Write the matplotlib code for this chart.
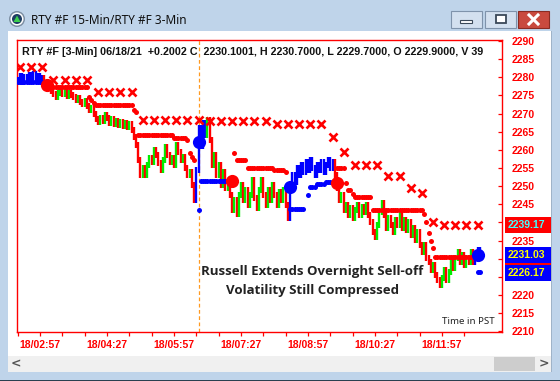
import matplotlib
matplotlib.use('Agg')
import matplotlib.pyplot as plt
from matplotlib.patches import Rectangle, Ellipse, Polygon
from matplotlib.lines import Line2D

W, H = 560, 381

# 3-min bar closes, first bar at 18/02:27 (minutes after midnight)
bar_start = 147
closes = [
    2279.3, 2280.4, 2278.7, 2280.1, 2279.5, 2280.6, 2279.8, 2280.9, 2279.5, 2280.4, 2279.3, 2279.8,
    2278.2, 2277.1, 2277.6, 2276.2, 2275.4, 2274.6, 2275.7, 2276.5, 2275.4, 2275.9, 2274.8, 2275.7,
    2275.1, 2274.6, 2273.7, 2274.3, 2273.2, 2272.6, 2273.5, 2272.1, 2271.0, 2271.5, 2269.9, 2268.5,
    2267.7, 2268.8, 2268.0, 2269.6, 2268.8, 2267.4, 2268.5, 2267.1, 2268.0, 2266.9, 2267.7, 2266.6,
    2267.4, 2266.3, 2267.1, 2265.5, 2263.6, 2261.3, 2257.2, 2253.1, 2255.0, 2253.1, 2255.8, 2257.8,
    2256.7, 2260.0, 2258.6, 2256.4, 2254.5, 2257.2, 2260.8, 2258.6, 2256.7, 2257.8, 2255.8, 2261.3,
    2259.4, 2257.2, 2258.1, 2255.0, 2253.1, 2253.9, 2250.3, 2246.2, 2254.5, 2266.0, 2261.0, 2267.5,
    2264.1, 2268.2, 2262.7, 2255.8, 2258.6, 2253.1, 2255.8, 2250.3, 2253.9, 2249.5, 2250.9, 2247.6,
    2243.4, 2246.2, 2242.3, 2247.6, 2250.3, 2246.2, 2249.0, 2244.8, 2247.6, 2251.7, 2246.8, 2244.0,
    2249.0, 2251.7, 2247.6, 2244.8, 2249.0, 2246.2, 2250.3, 2247.6, 2244.8, 2248.4, 2246.2, 2249.0,
    2244.8, 2241.2, 2249.0, 2253.1, 2251.2, 2255.0, 2253.1, 2255.8, 2253.9, 2256.7, 2254.5, 2257.2,
    2255.0, 2253.1, 2255.8, 2254.5, 2256.7, 2253.9, 2255.8, 2257.2, 2255.0, 2256.7, 2253.1, 2249.5,
    2246.2, 2247.6, 2243.4, 2244.8, 2242.1, 2244.0, 2241.2, 2243.4, 2244.8, 2242.1, 2244.3, 2242.9,
    2244.8, 2242.1, 2240.1, 2237.4, 2236.0, 2239.3, 2242.9, 2245.4, 2242.1, 2238.5, 2241.2, 2239.3,
    2237.4, 2240.7, 2239.3, 2242.1, 2238.5, 2240.7, 2237.9, 2240.1, 2236.6, 2238.5, 2235.2, 2237.4,
    2233.8, 2231.9, 2233.8, 2230.2, 2229.1, 2226.9, 2228.3, 2225.5, 2224.2, 2222.8, 2224.7, 2226.9,
    2224.2, 2226.4, 2229.1, 2227.5, 2230.2, 2231.9, 2229.1, 2231.0, 2228.3, 2230.2, 2229.1, 2231.9,
    2229.1, 2231.0, 2232.4, 2231.0,
]
# bar index ranges painted blue
blue_bars = [(0, 11), (80, 84), (122, 141), (205, 207)]
wick = 0.8  # extra range above/below open-close span, points

# 15-min stop (red x), first at 18/02:30
xstop_start = 150
xstop = [
    2282.8, 2282.8, 2282.8, 2279.3, 2279.3, 2279.3, 2279.3, 2276.0, 2276.0, 2276.0, 2276.0,
    2268.2, 2268.2, 2268.2, 2268.2, 2268.2, 2268.2, 2268.0, 2268.0, 2268.0, 2268.0, 2268.0,
    2268.0, 2267.1, 2267.1, 2267.1, 2267.1, 2267.1, 2263.6, 2259.4, 2255.8, 2255.8, 2255.8,
    2252.8, 2252.8, 2249.5, 2248.1, 2240.1, 2239.2, 2239.2, 2239.2, 2239.2,
]

# 3-min trailing stop runs: (first bar, last bar, level)
red_stop_runs = [
    (13, 31, 2277.3), (32, 32, 2274.6), (33, 33, 2273.7), (34, 34, 2272.9), (35, 51, 2272.4),
    (52, 52, 2271.0), (53, 53, 2270.4), (54, 69, 2264.0), (70, 75, 2263.3), (76, 76, 2262.7),
    (77, 77, 2259.1), (78, 78, 2258.0), (79, 79, 2257.2),
    (97, 97, 2259.1), (98, 102, 2257.2), (103, 114, 2255.0), (115, 119, 2254.5), (120, 120, 2253.9),
    (143, 146, 2255.0), (147, 147, 2250.9), (148, 149, 2249.0), (150, 150, 2247.9), (151, 158, 2247.0),
    (159, 181, 2243.4), (182, 182, 2242.3), (183, 183, 2240.0), (184, 184, 2237.0), (185, 185, 2235.0),
    (186, 186, 2233.0), (187, 203, 2230.5),
]
blue_stop_runs = [
    (0, 11, 2278.7), (81, 81, 2243.4), (82, 93, 2251.4), (122, 128, 2243.7), (130, 130, 2247.6),
    (131, 133, 2249.8), (134, 137, 2250.5), (138, 141, 2251.2), (206, 207, 2226.4),
]
red_flips = [(13, 2277.9), (96, 2251.4), (143, 2250.9)]
blue_flips = [(81, 2262.2), (122, 2249.8), (206, 2231.0)]

yticks = list(range(2210, 2291, 5))
hidden_yticks = [2240, 2230, 2225]  # covered by the price tags
xtick_min = list(range(147, 748, 30))
xlabel_min = [177, 267, 357, 447, 537, 627, 717]
xlabels = ['18/02:57', '18/04:27', '18/05:57', '18/07:27', '18/08:57', '18/10:27', '18/11:57']
session_open = 390

tags = [('', 2229.5, '#ff0000', '#ff0000'),
        ('2239.17', 2239.17, '#ff0000', '#40ffff'),
        ('2231.03', 2231.03, '#0000ff', '#ffff00'),
        ('2226.17', 2226.17, '#0000ff', '#ffff00')]

header = 'RTY #F [3-Min] 06/18/21  +0.2002 C  2230.1001, H 2230.7000, L 2229.7000, O 2229.9000, V 39'
title = 'RTY #F 15-Min/RTY #F 3-Min'
note = 'Russell Extends Overnight Sell-off\nVolatility Still Compressed'

frame_col = '#bfd4ea'
RED = '#ff0000'
GREEN = '#00ee00'
BLUE = '#0000ff'

fig = plt.figure(figsize=(W / 100, H / 100), dpi=100)
fig.patch.set_facecolor(frame_col)


def box(x0, y0, x1, y1, z=-5, **kw):
    r = Rectangle((x0 / W, 1 - y1 / H), (x1 - x0) / W, (y1 - y0) / H,
                  transform=fig.transFigure, zorder=z, **kw)
    fig.add_artist(r)
    return r


def ftext(x, y, s, **kw):
    return fig.text(x / W, 1 - y / H, s, **kw)


# client area and window bits
box(8, 31, 552, 356, fc='white', ec='none')
box(8, 356, 552, 372, fc='#f0f0f0', ec='none')
box(494, 357, 535, 371, fc='#cdcdcd', ec='none')
ftext(16, 364, '<', color='#555555', fontsize=9, weight='bold', ha='center', va='center',
      family='DejaVu Sans')
ftext(544, 364, '>', color='#555555', fontsize=9, weight='bold', ha='center', va='center',
      family='DejaVu Sans')
box(0, 379.5, 560, 381, z=20, fc='#2a4050', ec='none')

# title bar
ftext(31, 20, title, fontsize=8.5, color='#101010', va='center', family='Noto Sans')
fig.add_artist(Ellipse((17 / W, 1 - 19 / H), 16 / W, 16 / H, transform=fig.transFigure,
                       fc='#7d8fa3', ec='none'))
fig.add_artist(Ellipse((17 / W, 1 - 19 / H), 13 / W, 13 / H, transform=fig.transFigure,
                       fc='white', ec='none'))
fig.add_artist(Ellipse((17 / W, 1 - 19 / H), 10 / W, 10 / H, transform=fig.transFigure,
                       fc='#1f3d63', ec='none'))
fig.add_artist(Polygon([(13.5 / W, 1 - 22 / H), (20.5 / W, 1 - 22 / H), (17 / W, 1 - 15.5 / H)],
                       closed=True, transform=fig.transFigure, fc='#3ccf4e', ec='none'))
box(451, 11, 482, 28, fc='#d3e0ef', ec='#7f93ab', lw=0.8)
box(460, 19.5, 472, 22.5, fc='white', ec='#3a4858', lw=0.8)
box(485, 11, 516, 28, fc='#d3e0ef', ec='#7f93ab', lw=0.8)
box(496, 15, 506, 23, fc='white', ec='#3a4858', lw=1.3)
box(518, 11, 549, 28, fc='#c94a3e', ec='#8a2b22', lw=0.8)
for (a, b) in [((529, 15), (538, 24)), ((529, 24), (538, 15))]:
    fig.add_artist(Line2D([a[0] / W, b[0] / W], [1 - a[1] / H, 1 - b[1] / H],
                          transform=fig.transFigure, color='white', lw=2.2))

# chart axes
ax = fig.add_axes([17 / W, (H - 332) / H, (502 - 17) / W, (332 - 40) / H])
ax.set_facecolor('white')
ax.set_xlim(146.1, 797.7)
ax.set_ylim(2209.8, 2290.3)

times = [bar_start + 3 * j for j in range(len(closes))]
lows, highs, cols = [], [], []
for j, c in enumerate(closes):
    o = closes[j - 1] if j > 0 else c
    lows.append(min(o, c) - wick)
    highs.append(max(o, c) + wick)
    if any(a <= j <= b for a, b in blue_bars):
        cols.append(BLUE)
    elif c > o:
        cols.append(GREEN)
    else:
        cols.append(RED)
ax.vlines(times, lows, highs, colors=cols, lw=1.7, zorder=3)

for runs, col in [(red_stop_runs, RED), (blue_stop_runs, BLUE)]:
    xs, ys = [], []
    for a, b, lvl in runs:
        for j in range(a, b + 1):
            xs.append(bar_start + 3 * j)
            ys.append(lvl)
    ax.plot(xs, ys, 'o', color=col, ms=3.6, mew=0, zorder=4)

ax.plot([xstop_start + 15 * k for k in range(len(xstop))], xstop, 'x', color=RED,
        ms=6.2, mew=1.9, zorder=4)

for flips, col in [(red_flips, RED), (blue_flips, BLUE)]:
    ax.plot([bar_start + 3 * j for j, _ in flips], [v for _, v in flips], 'o',
            color=col, ms=9.5, mew=0, zorder=5)

ax.axvline(session_open, color='#ff9a20', lw=0.9, ls=(0, (3, 2)), zorder=2)

for s in ax.spines.values():
    s.set_color(RED)
    s.set_linewidth(1.0)

ax.yaxis.tick_right()
ax.set_yticks(yticks)
ax.set_yticklabels(['' if v in hidden_yticks else str(v) for v in yticks])
ax.tick_params(axis='y', direction='in', length=3, width=0.9, color=RED, labelcolor=RED,
               labelsize=7.5, pad=7)
ax.set_xticks(xtick_min)
ax.set_xticklabels([xlabels[xlabel_min.index(m)] if m in xlabel_min else '' for m in xtick_min])
ax.tick_params(axis='x', direction='out', length=3, width=0.9, color=RED, labelcolor=RED,
               labelsize=7.5, pad=2.5)
for lab in ax.get_xticklabels() + ax.get_yticklabels():
    lab.set_fontweight('bold')
    lab.set_family('Liberation Sans')

ftext(22, 52, header, fontsize=7.75, weight='bold', color='#111111', va='center',
      family='Liberation Sans')
ftext(312, 281, note, fontsize=9.5, weight='bold', color='#222222', ha='center', va='center',
      family='Open Sans', linespacing=1.6)
ftext(495, 321, 'Time in PST', fontsize=7, color='#222222', ha='right', va='center',
      family='Noto Sans')

# price tags on the right scale
fig.canvas.draw()
inv = fig.transFigure.inverted()
for txt, val, bg, fg in tags:
    yf = inv.transform(ax.transData.transform((797.7, val)))[1]
    yp = (1 - yf) * H
    box(505, yp - 8, 560, yp + 8, z=6, fc=bg, ec='none')
    if txt:
        fig.text(508 / W, yf, txt, color=fg, fontsize=7.5, weight='bold', va='center',
                 family='Liberation Sans', zorder=7)

# right window border covers the clipped tags
box(552, 0, 560, 381, z=10, fc=frame_col, ec='none')
box(551, 31, 552, 372, z=10, fc='#9fb3c8', ec='none')

fig.savefig('out.png', dpi=100, facecolor=fig.get_facecolor())
